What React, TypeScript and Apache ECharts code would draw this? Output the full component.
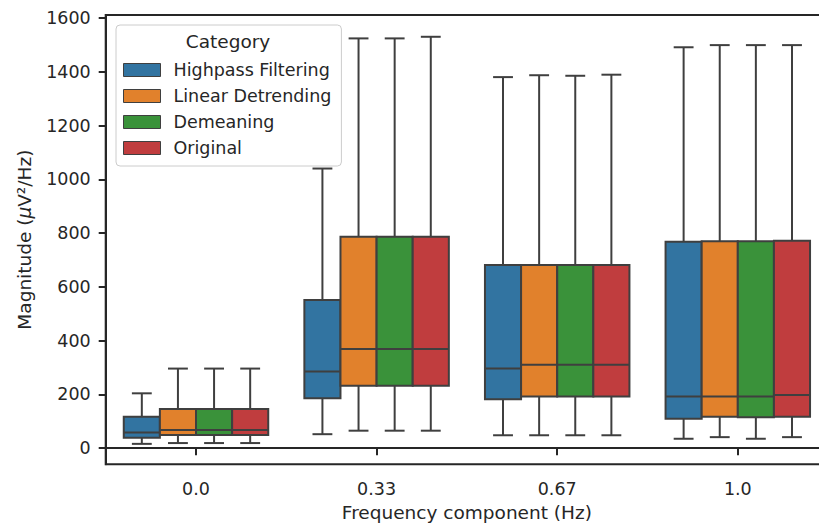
import React, { useEffect, useRef } from "react";
import * as echarts from "echarts";

// Categories (frequency components) and hue groups
const categories = ["0.0", "0.33", "0.67", "1.0"];
const seriesNames = ["Highpass Filtering", "Linear Detrending", "Demeaning", "Original"];
const seriesColors = ["#3274a1", "#e1812c", "#3a923a", "#c03d3e"];

// Box statistics per category: [lowWhisker, Q1, median, Q3, highWhisker]
const highpass = [
  [16, 39, 58, 117, 204],
  [52, 186, 285, 551, 1040],
  [48, 182, 296, 681, 1380],
  [35, 109, 192, 768, 1491],
];
const linearDetrending = [
  [19, 49, 68, 146, 296],
  [65, 232, 369, 786, 1524],
  [48, 192, 310, 681, 1387],
  [41, 117, 192, 770, 1499],
];
const demeaning = [
  [19, 49, 68, 146, 296],
  [65, 232, 369, 786, 1524],
  [48, 192, 310, 681, 1385],
  [35, 115, 192, 770, 1499],
];
const original = [
  [19, 49, 68, 146, 296],
  [65, 232, 369, 786, 1530],
  [48, 192, 310, 681, 1389],
  [41, 117, 198, 771, 1499],
];

const yTicks = [0, 200, 400, 600, 800, 1000, 1200, 1400, 1600];

const allStats = [highpass, linearDetrending, demeaning, original];
const FONT = "DejaVu Sans";
const TEXT = "#262626";
const EDGE = "#3f3f3f";

export default function App() {
  const ref = useRef<HTMLDivElement>(null);

  useEffect(() => {
    if (!ref.current) return;
    const chart = echarts.init(ref.current, undefined, { renderer: "svg" });
    const nSeries = allStats.length;

    const renderItem = (params: any, api: any) => {
      const sIdx = params.seriesIndex;
      const cat = api.value(0);
      const low = api.value(1);
      const q1 = api.value(2);
      const med = api.value(3);
      const q3 = api.value(4);
      const high = api.value(5);
      const band = api.size([1, 0])[0];
      const boxW = (band * 0.8) / nSeries;
      const cx = api.coord([cat, med])[0] + (sIdx - (nSeries - 1) / 2) * boxW;
      const yLow = api.coord([cat, low])[1];
      const yQ1 = api.coord([cat, q1])[1];
      const yMed = api.coord([cat, med])[1];
      const yQ3 = api.coord([cat, q3])[1];
      const yHigh = api.coord([cat, high])[1];
      const capHalf = boxW * 0.275;
      const lineStyle = { stroke: EDGE, lineWidth: 2, fill: null };
      return {
        type: "group",
        children: [
          { type: "line", shape: { x1: cx, y1: yQ3, x2: cx, y2: yHigh }, style: lineStyle },
          { type: "line", shape: { x1: cx, y1: yQ1, x2: cx, y2: yLow }, style: lineStyle },
          { type: "line", shape: { x1: cx - capHalf, y1: yHigh, x2: cx + capHalf, y2: yHigh }, style: lineStyle },
          { type: "line", shape: { x1: cx - capHalf, y1: yLow, x2: cx + capHalf, y2: yLow }, style: lineStyle },
          {
            type: "rect",
            shape: { x: cx - boxW / 2, y: yQ3, width: boxW, height: yQ1 - yQ3 },
            style: { fill: seriesColors[sIdx], stroke: EDGE, lineWidth: 2 },
          },
          { type: "line", shape: { x1: cx - boxW / 2, y1: yMed, x2: cx + boxW / 2, y2: yMed }, style: lineStyle },
        ],
      };
    };

    const series = allStats.map((stats, s) => ({
      type: "custom",
      name: seriesNames[s],
      renderItem,
      itemStyle: { color: seriesColors[s] },
      encode: { x: 0, y: [1, 2, 3, 4, 5] },
      data: stats.map((st, i) => [i, ...st]),
      z: 2 + s,
    }));

    chart.setOption({
      animation: false,
      textStyle: { fontFamily: FONT, color: TEXT },
      grid: {
        left: 105.7,
        top: 15,
        width: 722.4,
        bottom: 62.7,
        containLabel: false,
        outerBoundsMode: "none",
        show: true,
        borderColor: TEXT,
        borderWidth: 2,
        backgroundColor: "transparent",
      },
      xAxis: {
        type: "category",
        data: categories,
        boundaryGap: true,
        name: "Frequency component (Hz)",
        nameLocation: "middle",
        nameGap: 35,
        nameTextStyle: { fontFamily: FONT, fontSize: 18.5, color: TEXT },
        axisLine: { show: true, lineStyle: { color: TEXT, width: 2 } },
        axisTick: { show: true, alignWithLabel: true, length: 7, lineStyle: { color: TEXT, width: 2 } },
        axisLabel: { margin: 16, fontFamily: FONT, fontSize: 17.5, color: TEXT },
        splitLine: { show: false },
      },
      yAxis: {
        type: "value",
        min: -60,
        max: 1611,
        name: "Magnitude ({it|μ}V²/Hz)",
        nameLocation: "middle",
        nameGap: 72,
        nameTextStyle: {
          fontFamily: FONT,
          fontSize: 18.5,
          color: TEXT,
          rich: { it: { fontFamily: FONT, fontSize: 18.5, fontStyle: "italic", color: TEXT } },
        },
        axisLine: { show: true, lineStyle: { color: TEXT, width: 2 } },
        axisTick: { show: true, length: 7, lineStyle: { color: TEXT, width: 2 }, customValues: yTicks },
        axisLabel: {
          margin: 15,
          fontFamily: FONT,
          fontSize: 17.5,
          color: TEXT,
          customValues: yTicks,
          formatter: (v: number) => String(Math.round(v)),
        },
        splitLine: { show: false },
      },
      legend: {
        orient: "vertical",
        left: 116,
        top: 25,
        padding: [36, 10, 9, 7],
        itemWidth: 37,
        itemHeight: 13,
        itemGap: 8,
        selectedMode: false,
        backgroundColor: "rgba(255,255,255,0.8)",
        borderColor: "#cccccc",
        borderWidth: 1,
        borderRadius: 4,
        textStyle: { fontFamily: FONT, fontSize: 17.5, color: TEXT, lineHeight: 18, padding: [0, 0, 0, 8] },
        data: seriesNames.map((n, i) => ({
          name: n,
          icon: "rect",
          itemStyle: { color: seriesColors[i], borderColor: EDGE, borderWidth: 1 },
        })),
      },
      graphic: [
        {
          type: "text",
          x: 228,
          y: 41,
          z: 100,
          style: {
            text: "Category",
            fontFamily: FONT,
            fontSize: 18.5,
            fill: TEXT,
            textAlign: "center",
            textVerticalAlign: "middle",
          },
        },
      ],
      series,
    });

    return () => chart.dispose();
  }, []);

  return (
    <div
      ref={ref}
      style={{ position: "absolute", left: 0, top: 0, width: 819, height: 527 }}
    />
  );
}
